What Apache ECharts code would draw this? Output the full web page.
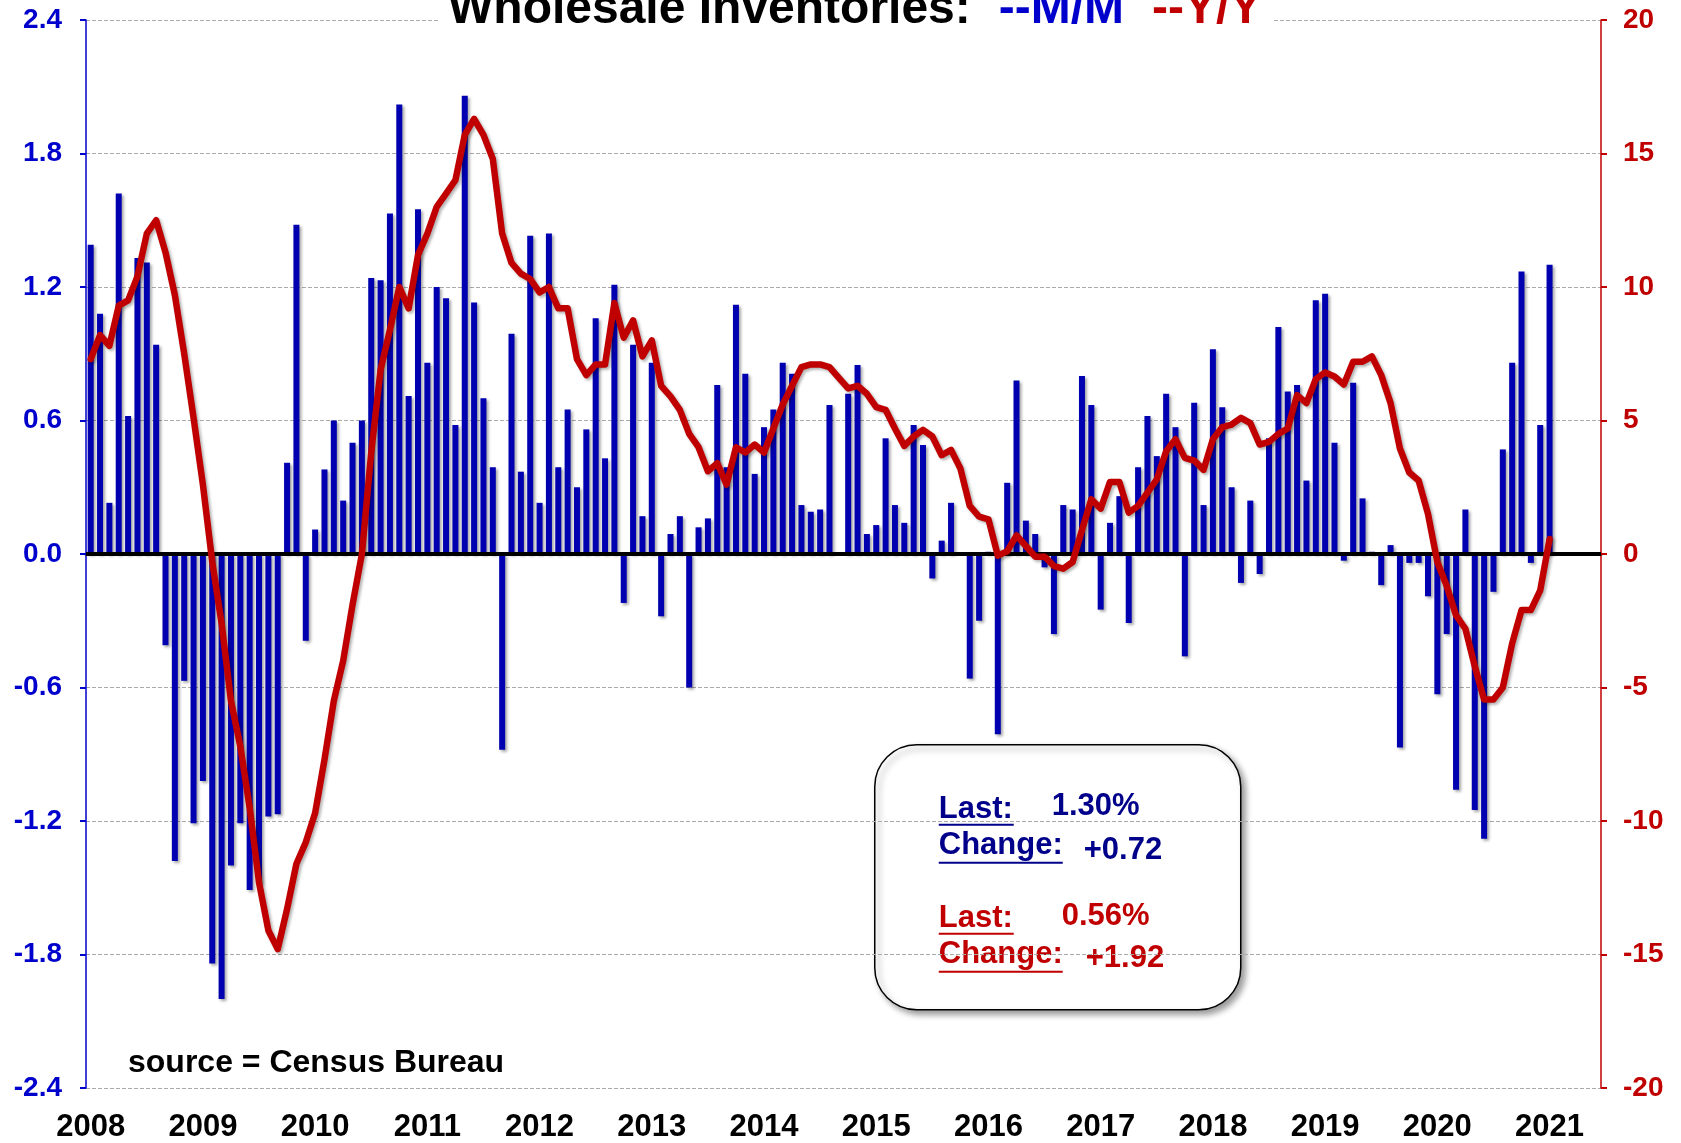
<!DOCTYPE html>
<html>
<head>
<meta charset="utf-8">
<title>Wholesale Inventories</title>
<script src="https://cdn.jsdelivr.net/npm/echarts@6/dist/echarts.min.js"></script>
<style>html,body{margin:0;padding:0;background:#fff}</style>
</head>
<body>
<div id="main" style="width:1681px;height:1143px"></div>
<script type="text/javascript">
var years = ['2008','2009','2010','2011','2012','2013','2014','2015','2016','2017','2018','2019','2020','2021'];

// month/month % change, Jan 2008 .. Jan 2021
var mm = [
  1.39, 1.08, 0.23, 1.62, 0.62, 1.33, 1.31, 0.94, -0.41, -1.38, -0.57, -1.21,
  -1.02, -1.84, -2.00, -1.40, -1.21, -1.51, -1.48, -1.18, -1.17, 0.41, 1.48, -0.39,
  0.11, 0.38, 0.60, 0.24, 0.50, 0.60, 1.24, 1.23, 1.53, 2.02, 0.71, 1.55,
  0.86, 1.20, 1.15, 0.58, 2.06, 1.13, 0.70, 0.39, -0.88, 0.99, 0.37, 1.43,
  0.23, 1.44, 0.39, 0.65, 0.30, 0.56, 1.06, 0.43, 1.21, -0.22, 0.94, 0.17,
  0.86, -0.28, 0.09, 0.17, -0.60, 0.12, 0.16, 0.76, 0.39, 1.12, 0.81, 0.36,
  0.57, 0.65, 0.86, 0.81, 0.22, 0.19, 0.20, 0.67, 0.00, 0.72, 0.85, 0.09,
  0.13, 0.52, 0.22, 0.14, 0.58, 0.49, -0.11, 0.06, 0.23, 0.00, -0.56, -0.30,
  0.01, -0.81, 0.32, 0.78, 0.15, 0.09, -0.06, -0.36, 0.22, 0.20, 0.80, 0.67,
  -0.25, 0.14, 0.26, -0.31, 0.39, 0.62, 0.44, 0.72, 0.57, -0.46, 0.68, 0.22,
  0.92, 0.66, 0.30, -0.13, 0.24, -0.09, 0.52, 1.02, 0.73, 0.76, 0.33, 1.14,
  1.17, 0.50, -0.03, 0.77, 0.25, 0.01, -0.14, 0.04, -0.87, -0.04, -0.04, -0.19,
  -0.63, -0.36, -1.06, 0.20, -1.15, -1.28, -0.17, 0.47, 0.86, 1.27, -0.04, 0.58,
  1.30
];

// year/year % change, Jan 2008 .. Jan 2021
var yoy = [
  7.3, 8.2, 7.8, 9.3, 9.5, 10.4, 12.0, 12.5, 11.3, 9.7, 7.5, 5.1,
  2.6, -0.3, -2.6, -5.5, -7.2, -9.5, -12.3, -14.1, -14.8, -13.3, -11.6, -10.8,
  -9.7, -7.7, -5.5, -4.0, -1.9, 0.0, 3.8, 6.9, 8.4, 10.0, 9.2, 11.2,
  12.0, 13.0, 13.5, 14.0, 15.7, 16.3, 15.7, 14.8, 12.0, 10.9, 10.5, 10.3,
  9.8, 10.0, 9.2, 9.2, 7.3, 6.7, 7.1, 7.1, 9.4, 8.1, 8.75, 7.4,
  8.0, 6.3, 5.9, 5.4, 4.5, 4.0, 3.1, 3.4, 2.6, 4.0, 3.8, 4.1,
  3.8, 4.7, 5.6, 6.3, 7.0, 7.1, 7.1, 7.0, 6.6, 6.2, 6.3, 6.0,
  5.5, 5.4, 4.7, 4.05, 4.4, 4.65, 4.4, 3.7, 3.9, 3.2, 1.8, 1.4,
  1.3, -0.06, 0.1, 0.7, 0.3, -0.1, -0.1, -0.45, -0.55, -0.3, 0.9, 2.05,
  1.7, 2.7, 2.7, 1.55, 1.8, 2.3, 2.8, 3.85, 4.3, 3.6, 3.5, 3.15,
  4.3, 4.75, 4.85, 5.1, 4.9, 4.1, 4.2, 4.5, 4.7, 5.95, 5.65, 6.55,
  6.8, 6.65, 6.35, 7.2, 7.2, 7.4, 6.7, 5.65, 3.95, 3.05, 2.75, 1.5,
  -0.3, -1.2, -2.3, -2.8, -4.2, -5.45, -5.45, -5.0, -3.35, -2.1, -2.1, -1.36,
  0.56
];

// axis runs to mid 2021
var categories = [];
years.forEach(function (y) {
  for (var m = 1; m <= 12; m++) {
    if (categories.length < 162) categories.push(y + '-' + (m < 10 ? '0' + m : m));
  }
});

var FONT = '"Liberation Sans", Arial, sans-serif';
var BLUE = '#0000cc';
var RED = '#c00000';
var NAVY = '#00008b';

function everyYear(index) { return index % 12 === 0; }

var myChart = echarts.init(document.getElementById('main'));

var option = {
  backgroundColor: '#fff',
  animation: false,
  title: {
    text: '{a|Wholesale Inventories:}{b|--M/M}{c|--Y/Y}',
    left: 440,
    top: -14,
    padding: [0, 12, 0, 8],
    backgroundColor: '#fff',
    textStyle: {
      rich: {
        a: { fontSize: 48, fontWeight: 'bold', fontFamily: FONT, color: '#000' },
        b: { fontSize: 48, fontWeight: 'bold', fontFamily: FONT, color: BLUE, padding: [0, 0, 0, 28] },
        c: { fontSize: 48, fontWeight: 'bold', fontFamily: FONT, color: RED, padding: [0, 0, 0, 28] }
      }
    }
  },
  grid: { left: 86, right: 80, top: 20, bottom: 54 },
  xAxis: {
    type: 'category',
    data: categories,
    boundaryGap: true,
    axisLine: { lineStyle: { color: '#333', width: 3 } },
    axisTick: { interval: everyYear, length: 9, lineStyle: { color: '#333', width: 1.5 } },
    axisLabel: {
      interval: everyYear,
      formatter: function (v) { return v.slice(0, 4); },
      color: '#000', fontSize: 31, fontWeight: 'bold', fontFamily: FONT, margin: 24
    },
    splitLine: { show: false }
  },
  yAxis: [{
    type: 'value',
    min: -2.4, max: 2.4, interval: 0.6,
    axisLine: { show: true, lineStyle: { color: BLUE, width: 1.5 } },
    axisTick: { show: true, length: 6, lineStyle: { color: BLUE, width: 2 } },
    axisLabel: {
      color: BLUE, fontSize: 28, fontWeight: 'bold', fontFamily: FONT, margin: 24,
      formatter: function (v) { return v.toFixed(1); }
    },
    splitLine: { show: true, lineStyle: { color: '#aaa', type: 'dashed', width: 1 } }
  }, {
    type: 'value',
    min: -20, max: 20, interval: 5,
    axisLine: { show: true, lineStyle: { color: RED, width: 1.5 } },
    axisTick: { show: true, length: 6, lineStyle: { color: RED, width: 2 } },
    axisLabel: { color: RED, fontSize: 28, fontWeight: 'bold', fontFamily: FONT, margin: 22 },
    splitLine: { show: false }
  }],
  series: [{
    name: 'M/M',
    type: 'bar',
    data: mm,
    barWidth: 6,
    itemStyle: {
      color: '#0000b0',
      shadowColor: 'rgba(0,0,0,0.35)', shadowBlur: 3, shadowOffsetX: 2, shadowOffsetY: 2
    },
    markLine: {
      silent: true,
      symbol: 'none',
      label: { show: false },
      lineStyle: { color: '#000', width: 4, type: 'solid' },
      data: [{ yAxis: 0 }]
    },
    z: 2
  }, {
    name: 'Y/Y',
    type: 'line',
    yAxisIndex: 1,
    data: yoy,
    symbol: 'none',
    lineStyle: {
      color: RED, width: 6.5, join: 'round', cap: 'round',
      shadowColor: 'rgba(0,0,0,0.3)', shadowBlur: 3, shadowOffsetX: 2, shadowOffsetY: 2
    },
    z: 5
  }],
  graphic: [{
    type: 'text',
    left: 128, top: 1047,
    style: { text: 'source = Census Bureau', fill: '#000', font: 'bold 32px ' + FONT }
  }, {
    type: 'group',
    left: 874, top: 744,
    children: [
      { type: 'rect', shape: { x: 0, y: 0, width: 366, height: 265, r: 42 },
        style: { fill: '#fff', stroke: '#000', lineWidth: 1.5,
          shadowColor: 'rgba(0,0,0,0.4)', shadowBlur: 6, shadowOffsetX: 4, shadowOffsetY: 4 } },
      { type: 'text', x: 64, y: 65, style: { text: 'Last:', fill: NAVY, font: 'bold 31px ' + FONT, verticalAlign: 'middle' } },
      { type: 'line', shape: { x1: 64, y1: 80, x2: 139, y2: 80 }, style: { stroke: NAVY, lineWidth: 2 } },
      { type: 'text', x: 177, y: 62, style: { text: '1.30%', fill: NAVY, font: 'bold 31px ' + FONT, verticalAlign: 'middle' } },
      { type: 'text', x: 64, y: 101, style: { text: 'Change:', fill: NAVY, font: 'bold 31px ' + FONT, verticalAlign: 'middle' } },
      { type: 'line', shape: { x1: 64, y1: 118, x2: 188, y2: 118 }, style: { stroke: NAVY, lineWidth: 2 } },
      { type: 'text', x: 209, y: 106, style: { text: '+0.72', fill: NAVY, font: 'bold 31px ' + FONT, verticalAlign: 'middle' } },
      { type: 'text', x: 64, y: 174, style: { text: 'Last:', fill: RED, font: 'bold 31px ' + FONT, verticalAlign: 'middle' } },
      { type: 'line', shape: { x1: 64, y1: 189, x2: 139, y2: 189 }, style: { stroke: RED, lineWidth: 2 } },
      { type: 'text', x: 187, y: 172, style: { text: '0.56%', fill: RED, font: 'bold 31px ' + FONT, verticalAlign: 'middle' } },
      { type: 'text', x: 64, y: 210, style: { text: 'Change:', fill: RED, font: 'bold 31px ' + FONT, verticalAlign: 'middle' } },
      { type: 'line', shape: { x1: 64, y1: 227, x2: 188, y2: 227 }, style: { stroke: RED, lineWidth: 2 } },
      { type: 'text', x: 211, y: 214, style: { text: '+1.92', fill: RED, font: 'bold 31px ' + FONT, verticalAlign: 'middle' } }
    ]
  }]
};

myChart.setOption(option);
</script>
</body>
</html>
